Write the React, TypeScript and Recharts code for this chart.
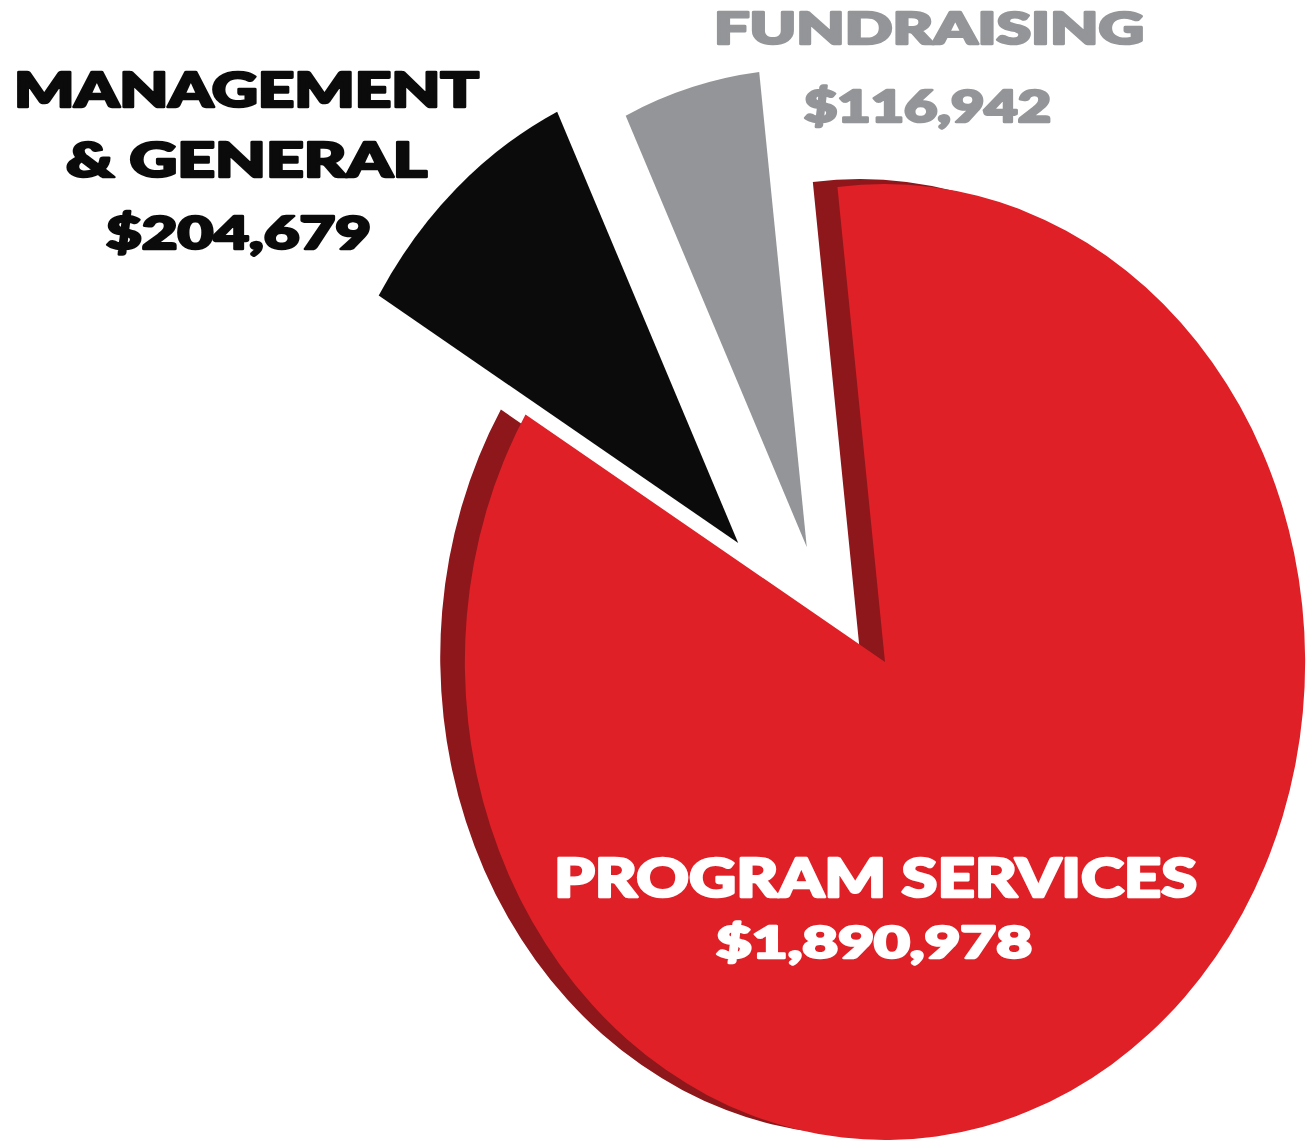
import React from "react";
import { PieChart, Pie, Cell } from "recharts";

// expense categories, in the order the pie lays them out (counter-clockwise)
const categories = ["Fundraising", "Management & General", "Program Services"];
const amounts = [116942, 204679, 1890978];
const sliceColors = ["#939598", "#0a0b0a", "#df2027"];
const shadowColor = "#8d171b";

const data = categories.map((name, i) => ({ name, value: amounts[i] }));

// the picture is an ellipse, so the chart is squeezed horizontally
const SQUEEZE = 0.879;
const ORIGIN_X = 885;
const RADIUS = 478;
const START = 96.5;
const CHART_W = 1500;

// where each slice sits (exploded slices are pulled out)
const centers = [
  { cx: 796, cy: 547 },
  { cx: 718, cy: 543 },
  { cx: 885, cy: 662 },
];

const fmt = (v: number) => "$" + v.toLocaleString("en-US");

const labelFont = "Lato, Inter, 'DejaVu Sans', sans-serif";

function SlicePie({ index, fill }: { index: number; fill?: string }) {
  const c = centers[index];
  return (
    <Pie
      data={data}
      dataKey="value"
      cx={c.cx}
      cy={c.cy}
      innerRadius={0}
      outerRadius={RADIUS}
      startAngle={START}
      endAngle={START + 360}
      stroke="none"
      isAnimationActive={false}
      legendType="none"
    >
      {data.map((d, i) => (
        <Cell
          key={d.name}
          fill={i === index ? fill ?? sliceColors[i] : "none"}
        />
      ))}
    </Pie>
  );
}

function Label({
  x,
  y,
  size,
  width,
  color,
  children,
}: {
  x: number;
  y: number;
  size: number;
  width: number;
  color: string;
  children: React.ReactNode;
}) {
  return (
    <text
      x={x}
      y={y}
      fontSize={size}
      textLength={width}
      lengthAdjust="spacingAndGlyphs"
      fill={color}
      stroke={color}
      strokeWidth={2.6}
      strokeLinejoin="round"
    >
      {children}
    </text>
  );
}

export default function App() {
  return (
    <div
      style={{
        position: "absolute",
        left: 0,
        top: 0,
        width: 1308,
        height: 1147,
        background: "#fff",
        overflow: "hidden",
      }}
    >
      <div
        style={{
          position: "absolute",
          left: 0,
          top: 0,
          transform: `scaleX(${SQUEEZE})`,
          transformOrigin: `${ORIGIN_X}px 0px`,
        }}
      >
        <PieChart
          width={CHART_W}
          height={1147}
          margin={{ top: 0, right: 0, bottom: 0, left: 0 }}
        >
          {/* darker copy behind the red slice gives the thick edge */}
          <Pie
            data={data}
            dataKey="value"
            cx={857}
            cy={657}
            innerRadius={0}
            outerRadius={RADIUS}
            startAngle={START}
            endAngle={START + 360}
            stroke="none"
            isAnimationActive={false}
          >
            {data.map((d, i) => (
              <Cell key={d.name} fill={i === 2 ? shadowColor : "none"} />
            ))}
          </Pie>
          {SlicePie({ index: 2 })}
          {SlicePie({ index: 0 })}
          {SlicePie({ index: 1 })}
        </PieChart>
      </div>

      <svg
        width={1308}
        height={1147}
        style={{ position: "absolute", left: 0, top: 0, pointerEvents: "none" }}
        fontFamily={labelFont}
        fontWeight={900}
      >
        <Label x={14} y={107} size={47} width={465} color="#0a0b0a">
          MANAGEMENT
        </Label>
        <Label x={66} y={177} size={47} width={361} color="#0a0b0a">
          &amp; GENERAL
        </Label>
        <Label x={106} y={249} size={45} width={265} color="#0a0b0a">
          {fmt(amounts[1])}
        </Label>
        <Label x={714} y={44} size={44} width={430} color="#939598">
          FUNDRAISING
        </Label>
        <Label x={804} y={122} size={43} width={247} color="#939598">
          {fmt(amounts[0])}
        </Label>
        <Label x={554} y={897} size={54} width={643} color="#ffffff">
          PROGRAM SERVICES
        </Label>
        <Label x={716} y={958} size={44} width={316} color="#ffffff">
          {fmt(amounts[2])}
        </Label>
      </svg>
    </div>
  );
}
